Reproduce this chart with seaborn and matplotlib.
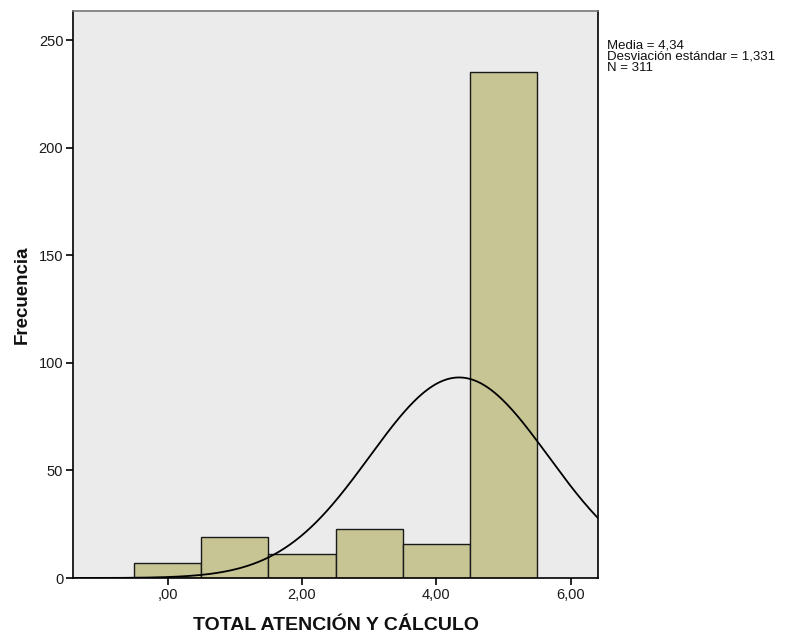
import numpy as np
import pandas as pd
import matplotlib
matplotlib.use("Agg")
import matplotlib.pyplot as plt
import seaborn as sns

puntuacion = [0, 1, 2, 3, 4, 5]
frecuencia = [7, 19, 11, 23, 16, 235]
media = 4.34
desv = 1.331
n_total = 311

xticks = [0, 2, 4, 6]
xtick_labels = [",00", "2,00", "4,00", "6,00"]
yticks = [0, 50, 100, 150, 200, 250]
stats_lines = ["Media = 4,34", "Desviación estándar = 1,331", "N = 311"]

sns.set_style("white")
plt.rcParams["font.family"] = ["Liberation Sans", "DejaVu Sans"]

df = pd.DataFrame({"x": puntuacion, "n": frecuencia})

fig = plt.figure(figsize=(7.86, 6.34), dpi=100)
ax = fig.add_axes([0.0929, 0.0883, 0.668, 0.8943])
ax.set_facecolor("#EBEBEB")

sns.histplot(data=df, x="x", weights="n", binwidth=1, binrange=(-0.5, 5.5),
             color="#C8C594", alpha=1, edgecolor="#1a1a1a", linewidth=1.0, ax=ax)

# curva normal
xs = np.linspace(-1.4, 6.42, 300)
ys = n_total * 1.0 / (desv * np.sqrt(2 * np.pi)) * np.exp(-0.5 * ((xs - media) / desv) ** 2)
sns.lineplot(x=xs, y=ys, color="black", linewidth=1.3, ax=ax)

ax.set_xlim(-1.41, 6.41)
ax.set_ylim(0, 263.5)
ax.set_xticks(xticks)
ax.set_xticklabels(xtick_labels)
ax.set_yticks(yticks)
ax.tick_params(axis="both", direction="out", length=5, width=1.2, color="black",
               labelsize=10.5, labelcolor="#1a1a1a", bottom=True, left=True, pad=2)

for side in ["left", "bottom", "right"]:
    ax.spines[side].set_color("black")
    ax.spines[side].set_linewidth(1.2)
ax.spines["top"].set_color("#777777")
ax.spines["top"].set_linewidth(1.2)

ax.set_xlabel("TOTAL ATENCIÓN Y CÁLCULO", fontsize=14, fontweight="bold",
              labelpad=11, color="#111111")
ax.set_ylabel("Frecuencia", fontsize=13.5, fontweight="bold", labelpad=6,
              color="#111111")

# cuadro de estadisticos a la derecha
for i, linea in enumerate(stats_lines):
    fig.text(607 / 786, 1 - (48 + 11.5 * i) / 634, linea,
             fontsize=9.5, va="baseline", ha="left", color="#111111")

fig.savefig("out.png", dpi=100)
